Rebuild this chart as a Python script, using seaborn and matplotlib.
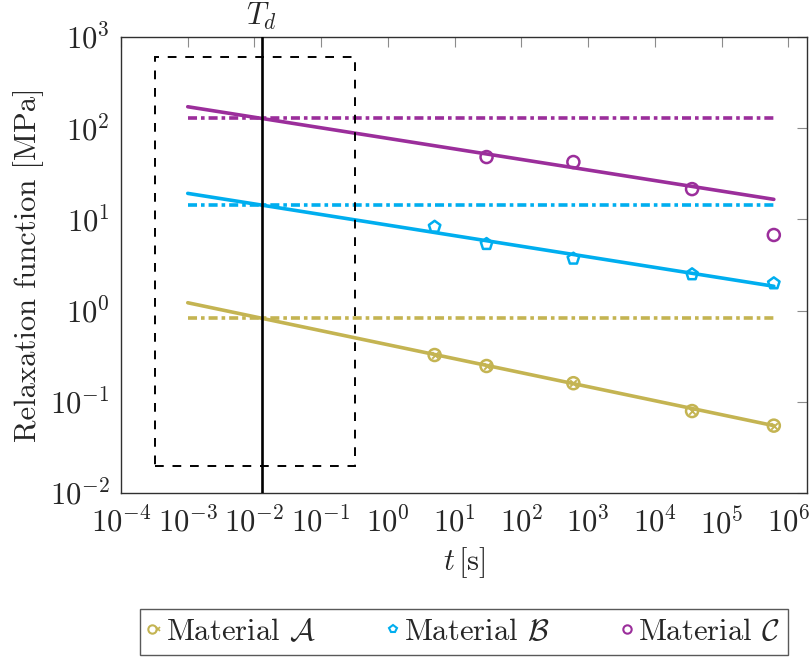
import matplotlib
matplotlib.use("Agg")
import matplotlib.pyplot as plt
import pandas as pd
import seaborn as sns
from matplotlib.ticker import LogLocator, LogFormatterSciNotation, NullLocator
from matplotlib.lines import Line2D
from matplotlib.legend_handler import HandlerTuple
from matplotlib.patches import Rectangle
from matplotlib.transforms import blended_transform_factory

# ---- data -------------------------------------------------------------
labels = [r"Material $\mathcal{A}$", r"Material $\mathcal{B}$", r"Material $\mathcal{C}$"]
colors = ["#C4B452", "#00AEEF", "#9B2E9B"]

# measured relaxation function [MPa] vs time [s]
t_A = [5, 30, 600, 36000, 604800]
G_A = [0.326, 0.247, 0.160, 0.0792, 0.0548]
t_B = [5, 30, 600, 36000, 604800]
G_B = [8.3, 5.37, 3.71, 2.50, 1.99]
t_C = [30, 600, 36000, 604800]
G_C = [48.3, 42.6, 21.5, 6.75]

# power-law fits: end points of the fitted range
fit_t = [1e-3, 604800]
fit_A = [1.22, 0.0548]
fit_B = [19.3, 1.85]
fit_C = [172, 16.6]

# relaxation function at T_d
level_A = 0.836
level_B = 14.5
level_C = 130

T_d = 0.0129
box_t = [3.2e-4, 0.32]
box_G = [0.02, 600]

# ---- style ------------------------------------------------------------
sns.set_theme(style="white")
plt.rcParams.update({
    "font.family": ["cmr10"],
    "mathtext.fontset": "cm",
    "axes.formatter.use_mathtext": True,
    "axes.unicode_minus": True,
    "font.size": 22,
})

FS = 22
LW = 2.6
fig = plt.figure(figsize=(8.1, 6.6), dpi=100)
ax = fig.add_axes([0.1494, 0.2530, 0.8469, 0.6909])
ax.set_xscale("log")
ax.set_yscale("log")

dashdot = (0, (2.5, 1.1, 1.0, 1.1))
fits = [fit_A, fit_B, fit_C]
levels = [level_A, level_B, level_C]
for fit, lev, c in zip(fits, levels, colors):
    sns.lineplot(x=fit_t, y=fit, color=c, lw=LW, ax=ax, legend=False)
    sns.lineplot(x=fit_t, y=[lev, lev], color=c, lw=LW, linestyle=dashdot,
                 dash_capstyle="butt", ax=ax, legend=False)

# measurements
ms = 75
sns.scatterplot(x=t_A, y=G_A, marker="o", s=ms, facecolor="none",
                edgecolor=colors[0], linewidth=1.8, ax=ax, zorder=5, legend=False)
sns.scatterplot(x=t_A, y=G_A, marker="x", s=22, color=colors[0],
                linewidth=1.4, ax=ax, zorder=5, legend=False)
sns.scatterplot(x=t_B, y=G_B, marker="p", s=ms, facecolor="none",
                edgecolor=colors[1], linewidth=1.8, ax=ax, zorder=5, legend=False)
sns.scatterplot(x=t_C, y=G_C, marker="o", s=ms, facecolor="none",
                edgecolor=colors[2], linewidth=1.8, ax=ax, zorder=5, legend=False)

# T_d marker and zoom window
ax.axvline(T_d, color="black", lw=1.9, zorder=4)
trans = blended_transform_factory(ax.transData, ax.transAxes)
ax.text(T_d, 1.026, r"$T_d$", transform=trans, ha="center", va="baseline",
        fontsize=FS)
ax.add_patch(Rectangle((box_t[0], box_G[0]), box_t[1] - box_t[0],
                       box_G[1] - box_G[0], fill=False, edgecolor="black",
                       lw=1.4, linestyle=(0, (4.5, 4.5)), zorder=3))

# axes
ax.set_xlim(1e-4, 1.9e6)
ax.set_ylim(1e-2, 1e3)
ax.xaxis.set_major_locator(LogLocator(base=10, numticks=20))
ax.yaxis.set_major_locator(LogLocator(base=10, numticks=20))
ax.xaxis.set_minor_locator(NullLocator())
ax.yaxis.set_minor_locator(NullLocator())
ax.xaxis.set_major_formatter(LogFormatterSciNotation())
ax.yaxis.set_major_formatter(LogFormatterSciNotation())
ax.tick_params(axis="both", which="major", direction="in", length=7,
               width=0.8, color="#8c8c8c", top=True, right=True,
               labelsize=FS)
ax.tick_params(axis="x", pad=10)
ax.tick_params(axis="y", pad=8)
for sp in ax.spines.values():
    sp.set_color("#303030")
    sp.set_linewidth(1.0)

ax.set_xlabel(r"$t\,$[s]", fontsize=FS, labelpad=4)
ax.set_ylabel("Relaxation function [MPa]", fontsize=FS, labelpad=4)

# legend
h_A = (Line2D([], [], ls="none", marker="o", ms=6, mfc="none", mec=colors[0], mew=1.5),
       Line2D([], [], ls="none", marker="x", ms=3.5, color=colors[0], mew=1.2))
h_B = Line2D([], [], ls="none", marker="p", ms=6, mfc="none", mec=colors[1], mew=1.5)
h_C = Line2D([], [], ls="none", marker="o", ms=6, mfc="none", mec=colors[2], mew=1.5)
leg = fig.legend([h_A, h_B, h_C], labels, loc="center",
                 bbox_to_anchor=(0.5728, 0.0424), ncol=3, frameon=True,
                 fancybox=False, fontsize=FS, handlelength=0.4,
                 handletextpad=0.15, columnspacing=2.35, borderpad=0.3,
                 borderaxespad=0.0,
                 handler_map={tuple: HandlerTuple(ndivide=None, pad=0)})
leg.get_frame().set_edgecolor("#303030")
leg.get_frame().set_linewidth(1.0)

fig.savefig("out.png", dpi=100)
